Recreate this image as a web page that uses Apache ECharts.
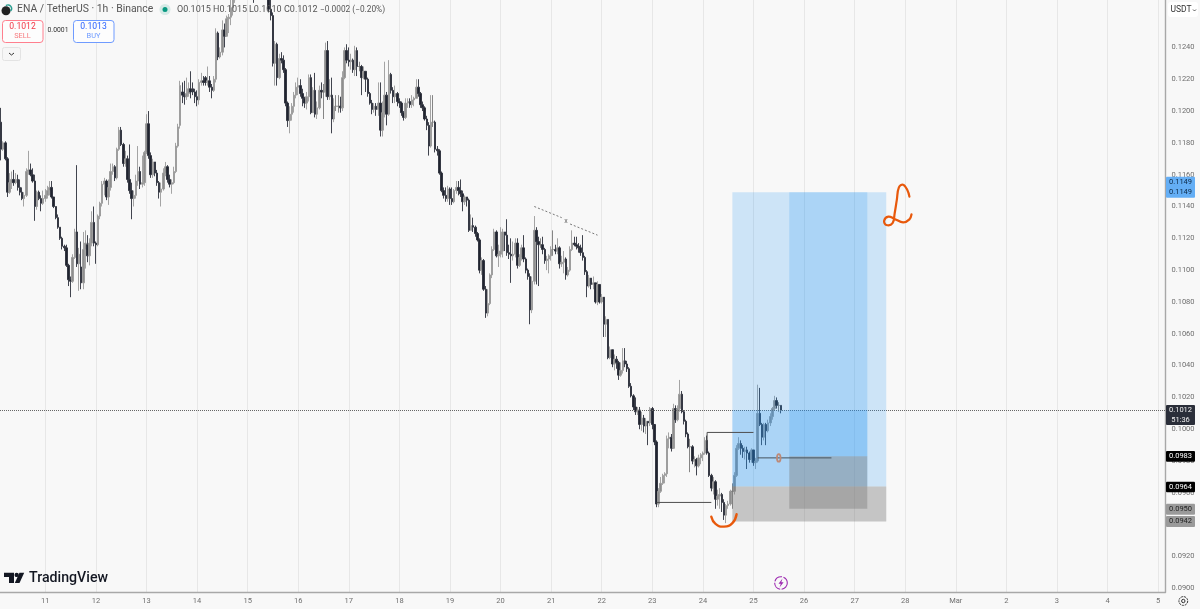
<!DOCTYPE html>
<html>
<head>
<meta charset="utf-8">
<style>html,body{margin:0;padding:0;background:#f8f8f8}#chart{width:1200px;height:609px}</style>
<script src="https://cdn.jsdelivr.net/npm/echarts@6/dist/echarts.min.js"></script>
</head>
<body>
<div id="chart"></div>
<script>
// ENA / TetherUS 1h, hourly bars (first bar Feb 10 03:00)
var opens = [
0.1193,0.1176,0.1180,0.1170,0.1149,0.1155,0.1157,0.1155,0.1157,0.1152,
0.1149,0.1145,0.1147,0.1162,0.1163,0.1160,0.1156,0.1140,0.1149,0.1145,
0.1142,0.1145,0.1147,0.1150,0.1152,0.1146,0.1140,0.1133,0.1127,0.1120,
0.1115,0.1114,0.1103,0.1094,0.1093,0.1108,0.1124,0.1104,0.1102,0.1092,
0.1113,0.1116,0.1109,0.1117,0.1130,0.1117,0.1116,0.1134,0.1142,0.1154,
0.1156,0.1146,0.1152,0.1162,0.1165,0.1158,0.1176,0.1188,0.1179,0.1167,
0.1170,0.1157,0.1150,0.1145,0.1147,0.1156,0.1162,0.1154,0.1155,0.1174,
0.1192,0.1172,0.1160,0.1168,0.1161,0.1155,0.1149,0.1151,0.1161,0.1165,
0.1157,0.1154,0.1155,0.1162,0.1178,0.1191,0.1212,0.1210,0.1209,0.1211,
0.1214,0.1214,0.1212,0.1209,0.1207,0.1218,0.1219,0.1221,0.1218,0.1219,
0.1215,0.1213,0.1220,0.1249,0.1234,0.1237,0.1251,0.1247,0.1258,0.1259,
0.1265,0.1270,0.1276,0.1283,0.1290,0.1296,0.1300,0.1288,0.1295,0.1303,
0.1290,0.1280,0.1292,0.1298,0.1305,0.1296,0.1285,0.1278,0.1264,0.1260,
0.1230,0.1242,0.1221,0.1233,0.1232,0.1226,0.1205,0.1194,0.1198,0.1203,
0.1210,0.1215,0.1216,0.1211,0.1208,0.1205,0.1209,0.1221,0.1199,0.1213,
0.1198,0.1202,0.1213,0.1212,0.1212,0.1238,0.1209,0.1210,0.1195,0.1203,
0.1203,0.1203,0.1202,0.1221,0.1238,0.1232,0.1231,0.1232,0.1226,0.1238,
0.1228,0.1228,0.1221,0.1225,0.1220,0.1211,0.1205,0.1201,0.1203,0.1201,
0.1205,0.1188,0.1199,0.1210,0.1198,0.1223,0.1213,0.1209,0.1211,0.1206,
0.1205,0.1199,0.1196,0.1205,0.1206,0.1204,0.1207,0.1208,0.1215,0.1211,
0.1204,0.1202,0.1195,0.1191,0.1178,0.1193,0.1193,0.1176,0.1175,0.1161,
0.1150,0.1147,0.1145,0.1151,0.1145,0.1143,0.1150,0.1152,0.1150,0.1148,
0.1143,0.1146,0.1144,0.1125,0.1128,0.1127,0.1123,0.1119,0.1100,0.1106,
0.1088,0.1073,0.1079,0.1097,0.1113,0.1124,0.1109,0.1110,0.1112,0.1124,
0.1122,0.1111,0.1110,0.1109,0.1110,0.1117,0.1103,0.1108,0.1114,0.1107,
0.1100,0.1096,0.1075,0.1093,0.1125,0.1118,0.1116,0.1116,0.1113,0.1106,
0.1107,0.1109,0.1113,0.1113,0.1112,0.1114,0.1104,0.1105,0.1107,0.1097,
0.1100,0.1113,0.1117,0.1116,0.1115,0.1114,0.1111,0.1108,0.1099,0.1090,
0.1095,0.1091,0.1092,0.1080,0.1091,0.1080,0.1083,0.1066,0.1069,0.1045,
0.1050,0.1041,0.1044,0.1042,0.1034,0.1037,0.1043,0.1041,0.1038,0.1027,
0.1021,0.1014,0.1011,0.1012,0.1003,0.1007,0.1002,0.1005,0.1004,0.1013,
0.1003,0.0992,0.0953,0.0961,0.0966,0.0971,0.0972,0.0994,0.0995,0.0988,
0.1013,0.1006,0.1013,0.1022,0.1011,0.1005,0.0997,0.0989,0.0989,0.0980,
0.0981,0.0977,0.0982,0.0984,0.0985,0.0993,0.0985,0.0971,0.0963,0.0967,
0.0956,0.0958,0.0959,0.0954,0.0946,0.0952,0.0953,0.0961,0.0961,0.0971,
0.0988,0.0991,0.0988,0.0986,0.0987,0.0985,0.0981,0.0987,0.0979,0.0980,
0.1010,0.1003,0.0995,0.1003,0.0999,0.1004,0.1008,0.1013,0.1018,0.1015,
0.1015
];
var closes = [
0.1176,0.1180,0.1170,0.1149,0.1155,0.1157,0.1155,0.1157,0.1152,0.1149,
0.1145,0.1147,0.1162,0.1163,0.1160,0.1156,0.1140,0.1149,0.1145,0.1142,
0.1145,0.1147,0.1150,0.1152,0.1146,0.1140,0.1133,0.1127,0.1120,0.1115,
0.1114,0.1103,0.1094,0.1093,0.1108,0.1124,0.1104,0.1110,0.1092,0.1113,
0.1117,0.1109,0.1117,0.1130,0.1117,0.1116,0.1134,0.1142,0.1154,0.1156,
0.1146,0.1152,0.1162,0.1165,0.1158,0.1176,0.1188,0.1179,0.1167,0.1170,
0.1157,0.1150,0.1145,0.1147,0.1156,0.1162,0.1154,0.1155,0.1174,0.1192,
0.1172,0.1160,0.1168,0.1161,0.1155,0.1149,0.1151,0.1161,0.1165,0.1157,
0.1154,0.1155,0.1162,0.1178,0.1190,0.1216,0.1210,0.1209,0.1211,0.1214,
0.1212,0.1212,0.1209,0.1207,0.1218,0.1219,0.1218,0.1218,0.1219,0.1215,
0.1213,0.1220,0.1249,0.1234,0.1237,0.1251,0.1247,0.1258,0.1259,0.1265,
0.1270,0.1276,0.1283,0.1290,0.1296,0.1300,0.1288,0.1295,0.1303,0.1290,
0.1280,0.1292,0.1298,0.1305,0.1296,0.1285,0.1278,0.1264,0.1260,0.1230,
0.1242,0.1221,0.1233,0.1232,0.1226,0.1205,0.1194,0.1198,0.1203,0.1210,
0.1215,0.1216,0.1211,0.1208,0.1205,0.1209,0.1221,0.1199,0.1213,0.1198,
0.1202,0.1213,0.1212,0.1212,0.1238,0.1209,0.1210,0.1195,0.1203,0.1203,
0.1203,0.1202,0.1221,0.1238,0.1232,0.1231,0.1232,0.1226,0.1238,0.1228,
0.1228,0.1221,0.1225,0.1220,0.1211,0.1205,0.1201,0.1203,0.1201,0.1205,
0.1188,0.1199,0.1210,0.1198,0.1223,0.1213,0.1209,0.1211,0.1206,0.1205,
0.1199,0.1196,0.1205,0.1206,0.1204,0.1207,0.1208,0.1215,0.1211,0.1204,
0.1202,0.1195,0.1191,0.1178,0.1193,0.1193,0.1176,0.1175,0.1161,0.1150,
0.1147,0.1145,0.1151,0.1145,0.1143,0.1150,0.1152,0.1150,0.1148,0.1143,
0.1146,0.1144,0.1125,0.1128,0.1127,0.1123,0.1119,0.1100,0.1106,0.1088,
0.1073,0.1079,0.1097,0.1113,0.1124,0.1109,0.1110,0.1112,0.1124,0.1122,
0.1111,0.1110,0.1109,0.1110,0.1117,0.1103,0.1108,0.1114,0.1107,0.1100,
0.1096,0.1075,0.1093,0.1125,0.1118,0.1116,0.1116,0.1113,0.1106,0.1107,
0.1109,0.1113,0.1113,0.1112,0.1114,0.1104,0.1105,0.1107,0.1097,0.1100,
0.1113,0.1117,0.1116,0.1115,0.1114,0.1111,0.1108,0.1099,0.1090,0.1095,
0.1091,0.1092,0.1080,0.1091,0.1080,0.1083,0.1066,0.1069,0.1045,0.1050,
0.1041,0.1044,0.1042,0.1034,0.1037,0.1043,0.1041,0.1038,0.1027,0.1021,
0.1014,0.1011,0.1012,0.1003,0.1007,0.1002,0.1005,0.1004,0.1013,0.1003,
0.0992,0.0953,0.0961,0.0966,0.0971,0.0972,0.0994,0.0995,0.0988,0.1013,
0.1006,0.1013,0.1022,0.1011,0.1005,0.0997,0.0989,0.0989,0.0980,0.0981,
0.0977,0.0982,0.0984,0.0985,0.0993,0.0985,0.0971,0.0963,0.0967,0.0956,
0.0958,0.0959,0.0954,0.0946,0.0952,0.0953,0.0961,0.0961,0.0971,0.0988,
0.0991,0.0988,0.0986,0.0987,0.0985,0.0981,0.0987,0.0979,0.0980,0.1010,
0.1003,0.0995,0.1003,0.0999,0.1004,0.1008,0.1013,0.1018,0.1015,0.1015,
0.1012
];
var highs = [
0.1202,0.1181,0.1181,0.1171,0.1161,0.1162,0.1163,0.1161,0.1160,0.1157,
0.1152,0.1149,0.1164,0.1175,0.1167,0.1164,0.1160,0.1150,0.1150,0.1147,
0.1150,0.1151,0.1153,0.1156,0.1156,0.1146,0.1140,0.1135,0.1127,0.1121,
0.1116,0.1116,0.1104,0.1096,0.1110,0.1126,0.1166,0.1114,0.1118,0.1124,
0.1125,0.1122,0.1120,0.1137,0.1140,0.1118,0.1135,0.1143,0.1156,0.1158,
0.1157,0.1157,0.1167,0.1167,0.1166,0.1177,0.1190,0.1190,0.1180,0.1175,
0.1172,0.1179,0.1155,0.1150,0.1160,0.1178,0.1165,0.1172,0.1175,0.1198,
0.1200,0.1174,0.1170,0.1168,0.1163,0.1156,0.1155,0.1164,0.1168,0.1166,
0.1160,0.1157,0.1165,0.1180,0.1192,0.1219,0.1218,0.1219,0.1221,0.1218,
0.1225,0.1218,0.1214,0.1213,0.1220,0.1224,0.1222,0.1222,0.1228,0.1222,
0.1217,0.1222,0.1252,0.1250,0.1240,0.1257,0.1255,0.1260,0.1261,0.1270,
0.1275,0.1282,0.1288,0.1296,0.1302,0.1306,0.1302,0.1298,0.1307,0.1305,
0.1292,0.1296,0.1304,0.1310,0.1306,0.1298,0.1288,0.1285,0.1270,0.1262,
0.1244,0.1243,0.1236,0.1237,0.1235,0.1227,0.1206,0.1203,0.1205,0.1212,
0.1218,0.1221,0.1220,0.1214,0.1209,0.1212,0.1223,0.1223,0.1215,0.1224,
0.1206,0.1216,0.1218,0.1217,0.1243,0.1244,0.1220,0.1221,0.1208,0.1210,
0.1210,0.1209,0.1225,0.1240,0.1242,0.1240,0.1236,0.1233,0.1241,0.1240,
0.1231,0.1229,0.1228,0.1225,0.1221,0.1212,0.1207,0.1205,0.1205,0.1218,
0.1218,0.1206,0.1231,0.1212,0.1232,0.1224,0.1215,0.1216,0.1212,0.1208,
0.1206,0.1200,0.1208,0.1208,0.1208,0.1210,0.1209,0.1220,0.1220,0.1212,
0.1206,0.1203,0.1197,0.1193,0.1210,0.1210,0.1194,0.1178,0.1176,0.1162,
0.1152,0.1152,0.1153,0.1152,0.1152,0.1151,0.1156,0.1156,0.1157,0.1150,
0.1147,0.1146,0.1145,0.1135,0.1133,0.1128,0.1124,0.1120,0.1108,0.1107,
0.1090,0.1088,0.1098,0.1115,0.1126,0.1125,0.1116,0.1127,0.1126,0.1124,
0.1132,0.1116,0.1120,0.1118,0.1120,0.1120,0.1110,0.1116,0.1122,0.1108,
0.1101,0.1098,0.1096,0.1134,0.1127,0.1121,0.1120,0.1121,0.1114,0.1109,
0.1110,0.1115,0.1125,0.1116,0.1120,0.1115,0.1109,0.1112,0.1108,0.1102,
0.1115,0.1125,0.1121,0.1121,0.1117,0.1116,0.1122,0.1109,0.1100,0.1097,
0.1095,0.1096,0.1092,0.1093,0.1091,0.1085,0.1082,0.1071,0.1069,0.1052,
0.1050,0.1047,0.1046,0.1043,0.1042,0.1051,0.1051,0.1043,0.1039,0.1029,
0.1022,0.1020,0.1014,0.1014,0.1011,0.1009,0.1007,0.1005,0.1014,0.1014,
0.1002,0.0993,0.0963,0.0970,0.0972,0.0973,0.0996,0.0998,0.0997,0.1016,
0.1015,0.1015,0.1031,0.1024,0.1012,0.1006,0.0998,0.0994,0.0990,0.0983,
0.0982,0.0984,0.0985,0.0986,0.0995,0.0996,0.0986,0.0972,0.0970,0.0968,
0.0962,0.0963,0.0960,0.0956,0.0953,0.0955,0.0962,0.0966,0.0973,0.0990,
0.0995,0.0993,0.0990,0.0989,0.0989,0.0986,0.0988,0.0987,0.0982,0.1028,
0.1026,0.1004,0.1004,0.1004,0.1006,0.1010,0.1014,0.1021,0.1020,0.1017,
0.1015
];
var lows = [
0.1169,0.1175,0.1169,0.1146,0.1148,0.1151,0.1153,0.1154,0.1150,0.1147,
0.1144,0.1140,0.1146,0.1160,0.1159,0.1155,0.1131,0.1138,0.1144,0.1137,
0.1141,0.1143,0.1145,0.1147,0.1145,0.1139,0.1132,0.1126,0.1119,0.1113,
0.1112,0.1102,0.1090,0.1083,0.1092,0.1107,0.1102,0.1087,0.1088,0.1088,
0.1101,0.1105,0.1103,0.1115,0.1115,0.1104,0.1115,0.1132,0.1140,0.1147,
0.1144,0.1141,0.1150,0.1160,0.1156,0.1157,0.1175,0.1178,0.1165,0.1165,
0.1155,0.1148,0.1132,0.1140,0.1145,0.1153,0.1151,0.1152,0.1153,0.1173,
0.1170,0.1158,0.1158,0.1159,0.1153,0.1145,0.1140,0.1150,0.1159,0.1155,
0.1152,0.1148,0.1154,0.1161,0.1177,0.1189,0.1205,0.1204,0.1207,0.1209,
0.1208,0.1210,0.1205,0.1203,0.1204,0.1216,0.1216,0.1216,0.1216,0.1212,
0.1208,0.1212,0.1218,0.1232,0.1233,0.1235,0.1240,0.1248,0.1249,0.1254,
0.1260,0.1268,0.1275,0.1281,0.1288,0.1292,0.1285,0.1284,0.1292,0.1278,
0.1268,0.1276,0.1288,0.1294,0.1290,0.1280,0.1272,0.1262,0.1257,0.1228,
0.1216,0.1216,0.1220,0.1230,0.1224,0.1203,0.1190,0.1186,0.1194,0.1199,
0.1208,0.1210,0.1209,0.1203,0.1202,0.1201,0.1206,0.1198,0.1200,0.1196,
0.1195,0.1201,0.1208,0.1195,0.1209,0.1207,0.1207,0.1186,0.1193,0.1200,
0.1199,0.1199,0.1200,0.1220,0.1230,0.1228,0.1226,0.1224,0.1222,0.1222,
0.1225,0.1210,0.1220,0.1212,0.1209,0.1204,0.1198,0.1199,0.1197,0.1197,
0.1184,0.1184,0.1196,0.1191,0.1197,0.1211,0.1205,0.1205,0.1203,0.1202,
0.1197,0.1194,0.1195,0.1202,0.1202,0.1202,0.1203,0.1208,0.1209,0.1202,
0.1200,0.1194,0.1188,0.1172,0.1177,0.1190,0.1174,0.1172,0.1160,0.1149,
0.1145,0.1143,0.1143,0.1141,0.1141,0.1142,0.1148,0.1147,0.1146,0.1137,
0.1141,0.1140,0.1124,0.1125,0.1124,0.1121,0.1118,0.1098,0.1097,0.1087,
0.1070,0.1071,0.1078,0.1095,0.1112,0.1108,0.1102,0.1108,0.1108,0.1112,
0.1109,0.1107,0.1092,0.1106,0.1108,0.1101,0.1102,0.1106,0.1105,0.1098,
0.1094,0.1066,0.1073,0.1091,0.1091,0.1090,0.1114,0.1110,0.1104,0.1100,
0.1098,0.1106,0.1109,0.1110,0.1110,0.1101,0.1102,0.1098,0.1094,0.1096,
0.1099,0.1112,0.1115,0.1113,0.1111,0.1109,0.1106,0.1097,0.1083,0.1089,
0.1088,0.1088,0.1079,0.1078,0.1079,0.1079,0.1058,0.1058,0.1044,0.1044,
0.1039,0.1037,0.1038,0.1031,0.1033,0.1035,0.1039,0.1036,0.1026,0.1020,
0.1012,0.1009,0.1009,0.1000,0.0999,0.0998,0.0997,0.0990,0.1002,0.1000,
0.0990,0.0951,0.0951,0.0960,0.0965,0.0966,0.0970,0.0988,0.0986,0.0994,
0.1004,0.1005,0.1011,0.1010,0.1003,0.0995,0.0988,0.0973,0.0978,0.0976,
0.0971,0.0976,0.0978,0.0980,0.0984,0.0984,0.0970,0.0961,0.0959,0.0950,
0.0952,0.0950,0.0948,0.0943,0.0941,0.0950,0.0952,0.0950,0.0959,0.0970,
0.0987,0.0984,0.0982,0.0981,0.0975,0.0979,0.0979,0.0977,0.0975,0.0979,
0.1002,0.0990,0.0993,0.0990,0.0998,0.1002,0.1006,0.1012,0.1013,0.1011,
0.1010
];
var dayLabels = ['11','12','13','14','15','16','17','18','19','20','21','22','23','24','25','26','27','28','Mar','2','3','4','5'];
var priceTicks = [0.09,0.092,0.094,0.096,0.098,0.1,0.102,0.104,0.106,0.108,0.11,0.112,0.114,0.116,0.118,0.12,0.122,0.124];
var lastPrice = 0.1012;

// drawings: [from bar, to bar, top price, bottom price]
var profitBoxes = [[347,420,0.1149,0.0964],[374,411,0.1149,0.0983],[347,411,0.1012,0.0964]];
var stopBoxes = [[347,420,0.0964,0.0942],[374,411,0.0983,0.0950]];
// [bar, price] points
var levelLineA = [[311,0.0954],[337,0.0954]];
var levelLineB = [[335,0.0988],[335,0.0998],[357,0.0998]];
var levelLineC = [[359,0.0982],[394,0.0982]];
var trendLine = [[253,0.1140],[266,0.1133]];
var trendLine2 = [[270,0.1129],[283,0.1122]];
var trendMark = [268,0.1131];
var smileStroke = [[337,0.0945],[339,0.09405],[343,0.09388],[347,0.0941],[349,0.09466]];
var letterStroke = [[431,0.11462],[430,0.11504],[428,0.11537],[426,0.1152],[425,0.1144],[424,0.11358],[423,0.11295],[420,0.11284],[419,0.1131],[421,0.11336],[424,0.11322],[428,0.113],[431,0.11319],[432,0.11351]];
var brownMark = [369,0.0982];

var barCount = 553, firstMidnight = 21;
var categories = [];
for (var i = 0; i < barCount; i++) categories.push('');
dayLabels.forEach(function (d, k) { categories[firstMidnight + 24 * k] = d; });

var candleData = closes.map(function (c, i) { return [opens[i], c, lows[i], highs[i]]; });
var isDay = function (idx, val) { return val !== ''; };

function lineEl(api, pts, style, smooth) {
  return {
    type: 'polyline',
    shape: { points: pts.map(function (p) { return api.coord(p); }), smooth: smooth || 0 },
    style: Object.assign({ fill: 'none' }, style)
  };
}
function boxEl(api, b, fill) {
  var a = api.coord([b[0], b[2]]), c = api.coord([b[1], b[3]]);
  return { type: 'rect', shape: { x: a[0], y: a[1], width: c[0] - a[0], height: c[1] - a[1] }, style: { fill: fill } };
}
function renderDrawings(params, api) {
  var kids = [];
  profitBoxes.forEach(function (b) { kids.push(boxEl(api, b, 'rgba(33,150,243,0.2)')); });
  stopBoxes.forEach(function (b) { kids.push(boxEl(api, b, 'rgba(120,120,120,0.4)')); });
  kids.push(lineEl(api, levelLineA, { stroke: '#4d4d4d', lineWidth: 1 }));
  kids.push(lineEl(api, levelLineB, { stroke: '#4d4d4d', lineWidth: 1 }));
  kids.push(lineEl(api, levelLineC, { stroke: '#46525e', lineWidth: 1 }));
  kids.push(lineEl(api, trendLine, { stroke: '#777', lineWidth: 1, lineDash: [2, 2] }));
  kids.push(lineEl(api, trendLine2, { stroke: '#777', lineWidth: 1, lineDash: [2, 2] }));
  var tm = api.coord(trendMark);
  kids.push({ type: 'text', style: { x: tm[0], y: tm[1], text: 'x', fill: '#666', fontSize: 7, align: 'center', verticalAlign: 'middle', fontFamily: 'Roboto' } });
  kids.push(lineEl(api, smileStroke, { stroke: '#e8590c', lineWidth: 2.4, lineCap: 'round' }, 0.5));
  kids.push(lineEl(api, letterStroke, { stroke: '#e8590c', lineWidth: 2.2, lineCap: 'round', lineJoin: 'round' }, 0.4));
  var bm = api.coord(brownMark);
  kids.push({ type: 'ellipse', shape: { cx: bm[0], cy: bm[1], rx: 1.8, ry: 3.8 }, style: { fill: 'none', stroke: '#bd8a78', lineWidth: 1.8 } });
  return { type: 'group', children: kids };
}

var uiFont = 'Roboto, sans-serif';
function txt(x, y, s, size, color, align, weight) {
  return { type: 'text', z: 50, style: { x: x, y: y, text: s, fontSize: size, fill: color, align: align || 'left', verticalAlign: 'middle', fontFamily: uiFont, fontWeight: weight || 'normal' } };
}
function box(x, y, w, h, fill, stroke, r) {
  return { type: 'rect', z: 49, shape: { x: x, y: y, width: w, height: h, r: r || 0 }, style: { fill: fill, stroke: stroke || 'none', lineWidth: 1 } };
}
function poly(points, fill) {
  return { type: 'polygon', z: 50, shape: { points: points }, style: { fill: fill } };
}
function tag(y0, y1, fill, color, lines) {
  var out = [box(1166, y0, 29, y1 - y0, fill, 'none', 1)];
  var step = (y1 - y0) / lines.length;
  lines.forEach(function (s, k) { out.push(txt(1180.5, y0 + step * (k + 0.5), s, 7.5, color, 'center')); });
  return out;
}
var ui = [].concat(
  [{ type: 'circle', z: 50, shape: { cx: 6, cy: 10.7, r: 4.5 }, style: { fill: '#222' } },
   { type: 'arc', z: 50, shape: { cx: 8, cy: 8.5, r: 3.6, startAngle: -2.2, endAngle: 0.8 }, style: { fill: 'none', stroke: '#2a9d8f', lineWidth: 1.4 } },
   txt(17, 9.5, 'ENA / TetherUS · 1h · Binance', 10.4, '#555'),
   { type: 'circle', z: 50, shape: { cx: 165, cy: 9.5, r: 5.5 }, style: { fill: 'rgba(8,153,129,0.15)' } },
   { type: 'circle', z: 50, shape: { cx: 165, cy: 9.5, r: 2.5 }, style: { fill: '#089981' } },
   txt(177, 9.5, 'O0.1015', 9, '#555'), txt(213, 9.5, 'H0.1015', 9, '#555'), txt(249, 9.5, 'L0.1010', 9, '#555'),
   txt(284, 9.5, 'C0.1012', 9, '#555'), txt(320, 9.5, '−0.0002 (−0.20%)', 8.3, '#555'),
   box(2.5, 20.5, 40.5, 22, '#fdfdfd', '#ff7f8e', 3),
   txt(22.5, 26.5, '0.1012', 8.6, '#f23645', 'center'), txt(22.5, 36, 'SELL', 7.4, '#f77c80', 'center'),
   txt(58, 30.5, '0.0001', 6.8, '#333', 'center'),
   box(73.5, 20.5, 40.5, 22, '#fdfdfd', '#6f9bff', 3),
   txt(93.5, 26.5, '0.1013', 8.6, '#2962ff', 'center'), txt(93.5, 36, 'BUY', 7.4, '#6f9bff', 'center'),
   box(2.5, 47.5, 18, 13, '#f6f6f6', '#e3e3e3', 2),
   { type: 'polyline', z: 50, shape: { points: [[9, 53], [11.5, 55], [14, 53]] }, style: { fill: 'none', stroke: '#333', lineWidth: 1 } },
   box(1168, 2, 30, 15, '#fff', 'none', 3),
   txt(1170.5, 10, 'USDT', 8.5, '#333'),
   { type: 'polyline', z: 50, shape: { points: [[1193, 9.5], [1194.5, 11], [1196, 9.5]] }, style: { fill: 'none', stroke: '#333', lineWidth: 0.8 } },
   poly([[4, 572.7], [14, 572.7], [14, 583], [9, 583], [9, 577], [4, 577]], '#131722'),
   { type: 'circle', z: 50, shape: { cx: 16.7, cy: 574.9, r: 2.2 }, style: { fill: '#131722' } },
   poly([[19.5, 572.7], [24.2, 572.7], [19.5, 583], [14.8, 583]], '#131722'),
   txt(29, 578, 'TradingView', 14.2, '#131722', 'left', 500),
   { type: 'circle', z: 50, shape: { cx: 781, cy: 583, r: 6.3 }, style: { fill: 'none', stroke: '#9c27b0', lineWidth: 1.1, lineDash: [9, 1.5] } },
   poly([[782.5, 578.5], [778.5, 583.8], [780.8, 583.8], [779.5, 587.5], [783.6, 582.2], [781.3, 582.2]], '#9c27b0'),
   { type: 'circle', z: 50, shape: { cx: 1183.3, cy: 601, r: 4.4 }, style: { fill: 'none', stroke: '#333', lineWidth: 1, lineDash: [2.2, 0.8] } },
   { type: 'circle', z: 50, shape: { cx: 1183.3, cy: 601, r: 1.7 }, style: { fill: 'none', stroke: '#333', lineWidth: 1 } }],
  tag(176.7, 197.7, '#64aef5', '#0e2a47', ['0.1149', '0.1149']),
  tag(405, 425, '#2a2e39', '#f0f0f0', ['0.1012', '51:36']),
  tag(451, 461.7, '#000', '#fff', ['0.0983']),
  tag(481.7, 492.3, '#000', '#fff', ['0.0964']),
  tag(503.7, 514.7, '#9a9a9a', '#222', ['0.0950']),
  tag(516, 527, '#9a9a9a', '#222', ['0.0942'])
);

var option = {
  animation: false,
  backgroundColor: '#f8f8f8',
  textStyle: { fontFamily: uiFont },
  grid: { left: -0.64, right: 34.5, top: 0, bottom: 17 },
  xAxis: {
    type: 'category',
    data: categories,
    axisLine: { lineStyle: { color: '#a8a8a8', width: 1.4 } },
    axisTick: { show: false },
    axisLabel: { interval: isDay, color: '#6e6e6e', fontSize: 7.5, margin: 5, fontFamily: uiFont },
    splitLine: { show: true, interval: isDay, alignWithLabel: true, lineStyle: { color: '#e7e7e7', width: 1 } }
  },
  yAxis: {
    type: 'value',
    position: 'right',
    min: 0.08977,
    max: 0.12698,
    axisLine: { show: true, onZero: false, lineStyle: { color: '#a8a8a8', width: 1.4 } },
    axisTick: { show: false },
    splitLine: { show: false },
    axisLabel: {
      customValues: priceTicks,
      color: '#6e6e6e',
      fontSize: 7.5,
      margin: 6,
      fontFamily: uiFont,
      formatter: function (v) { return v.toFixed(4); }
    }
  },
  series: [
    {
      type: 'candlestick',
      data: candleData,
      barWidth: 2,
      clip: true,
      itemStyle: {
        color: '#8e8e8e', color0: '#20242f',
        borderColor: '#9a9a9a', borderColor0: '#2b2f3a', borderColorDoji: '#777',
        borderWidth: 0.9
      },
      markLine: {
        silent: true,
        symbol: 'none',
        precision: 4,
        label: { show: false },
        lineStyle: { type: 'dotted', color: '#666', width: 1 },
        data: [{ yAxis: lastPrice }]
      }
    },
    {
      type: 'custom',
      silent: true,
      z: 5,
      data: [[0, lastPrice]],
      renderItem: renderDrawings
    }
  ],
  graphic: ui
};
echarts.init(document.getElementById('chart')).setOption(option);
</script>
</body>
</html>
